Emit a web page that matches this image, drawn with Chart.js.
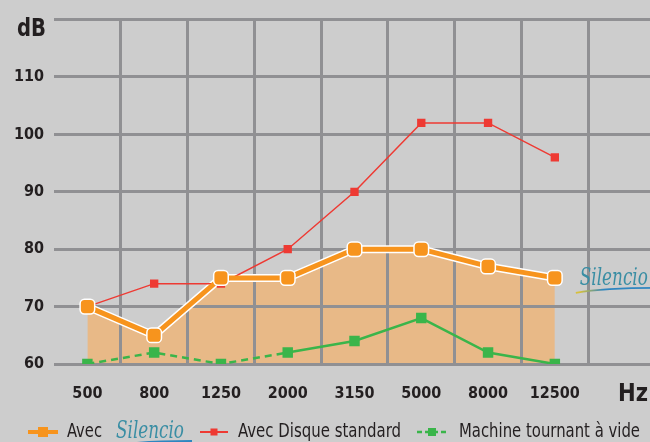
<!DOCTYPE html>
<html>
<head>
<meta charset="utf-8">
<script src="https://cdn.jsdelivr.net/npm/chart.js@4.4.1/dist/chart.umd.min.js"></script>
<style>
  html, body { margin: 0; padding: 0; background: #cdcdcd; overflow: hidden; }
  #noiseChart { display: block; }
</style>
</head>
<body>
<canvas id="noiseChart" width="665" height="442"></canvas>
<script>
/* Sound level (dB) per frequency band, three machine configurations.
   Canvas is a bit wider than the window so the last (empty) band runs off the edge. */

const categories = ["500", "800", "1250", "2000", "3150", "5000", "8000", "12500"];
const withSilencio = [70, 65, 75, 75, 80, 80, 77, 75];
const standardDisc = [70, 74, 74, 80, 90, 102, 102, 96];
const idleMachine = [60, 62, 60, 62, 64, 68, 62, 60];
const yTicks = [60, 70, 80, 90, 100, 110, 120];

const FONT = '"DejaVu Sans Condensed", "Liberation Sans Narrow", sans-serif';
const GRID = "#909093";
const TEXT = "#231f20";
const COLORS = { silencio: "#f7941d", standard: "#ee3a33", idle: "#3ab54a", fill: "#e8b987" };

// text squeezed horizontally to a given width (condensed look)
function fillNarrow(ctx, text, x, y, width) {
  const w = ctx.measureText(text).width;
  ctx.save();
  ctx.translate(x, y);
  ctx.scale(width / w, 1);
  ctx.fillText(text, 0, 0);
  ctx.restore();
}

function drawLogo(ctx, x, y, width) {
  ctx.save();
  ctx.font = 'italic 25px "DejaVu Serif", serif';
  ctx.textBaseline = "alphabetic";
  ctx.textAlign = "left";
  ctx.fillStyle = "#3a8ea4";
  fillNarrow(ctx, "Silencio", x, y, width);
  const grad = ctx.createLinearGradient(x, 0, x + width, 0);
  grad.addColorStop(0, "#d6c03c");
  grad.addColorStop(0.35, "#2f86c0");
  grad.addColorStop(1, "#2f86c0");
  ctx.strokeStyle = grad;
  ctx.lineWidth = 1.8;
  ctx.beginPath();
  ctx.moveTo(x - 4, y + 8);
  ctx.quadraticCurveTo(x + width * 0.35, y + 3, x + width + 8, y + 3);
  ctx.stroke();
  ctx.restore();
}

const extras = {
  id: "extras",
  afterDraw(chart) {
    const ctx = chart.ctx;
    const yScale = chart.scales.y;
    const area = chart.chartArea;
    ctx.save();
    ctx.fillStyle = TEXT;
    ctx.textBaseline = "middle";
    ctx.textAlign = "left";
    // axis units
    ctx.font = "bold 25px " + FONT;
    fillNarrow(ctx, "dB", 17, yScale.getPixelForValue(120) + 10, 29);
    fillNarrow(ctx, "Hz", 618, area.bottom + 30, 30);
    // logo next to the Silencio line end
    const last = chart.getDatasetMeta(3).data[withSilencio.length - 1];
    drawLogo(ctx, last.x + 25, last.y + 7, 68);

    // legend
    const ly = 432;
    ctx.font = "19px " + FONT;
    // Avec Silencio
    ctx.strokeStyle = COLORS.silencio; ctx.lineWidth = 4;
    ctx.beginPath(); ctx.moveTo(28, ly); ctx.lineTo(58, ly); ctx.stroke();
    ctx.fillStyle = COLORS.silencio; ctx.fillRect(38, ly - 5, 10, 10);
    ctx.fillStyle = TEXT; fillNarrow(ctx, "Avec", 67, ly, 35);
    drawLogo(ctx, 116, ly + 6, 68);
    // Avec Disque standard
    ctx.strokeStyle = COLORS.standard; ctx.lineWidth = 2;
    ctx.beginPath(); ctx.moveTo(200, ly); ctx.lineTo(228, ly); ctx.stroke();
    ctx.fillStyle = COLORS.standard; ctx.fillRect(210.5, ly - 3.5, 7, 7);
    ctx.fillStyle = TEXT; fillNarrow(ctx, "Avec Disque standard", 238, ly, 163);
    // Machine tournant a vide
    ctx.strokeStyle = COLORS.idle; ctx.lineWidth = 2.5; ctx.setLineDash([5, 3]);
    ctx.beginPath(); ctx.moveTo(417, ly); ctx.lineTo(448, ly); ctx.stroke();
    ctx.setLineDash([]);
    ctx.fillStyle = COLORS.idle; ctx.fillRect(428, ly - 4, 8, 8);
    ctx.fillStyle = TEXT; fillNarrow(ctx, "Machine tournant à vide", 459, ly, 181);
    ctx.restore();
  }
};

new Chart(document.getElementById("noiseChart"), {
  type: "line",
  data: {
    labels: [...categories, ""],
    datasets: [
      { // white outline + area under the Silencio curve
        label: "outline", data: withSilencio, borderColor: "#ffffff", borderWidth: 8,
        pointRadius: 0, fill: "start", backgroundColor: COLORS.fill, order: 4
      },
      {
        label: "Avec Disque standard", data: standardDisc, borderColor: COLORS.standard, borderWidth: 1.5,
        pointStyle: "rect", pointRadius: 5.9, pointBackgroundColor: COLORS.standard, pointBorderWidth: 0, order: 3
      },
      {
        label: "Machine tournant à vide", data: idleMachine, borderColor: COLORS.idle, borderWidth: 2.5,
        segment: { borderDash: ctx => ctx.p0DataIndex < 3 ? [7, 5] : [] },
        pointStyle: "rect", pointRadius: 7.4, pointBackgroundColor: COLORS.idle, pointBorderWidth: 0, order: 2
      },
      {
        label: "Avec Silencio", data: withSilencio, borderColor: COLORS.silencio, borderWidth: 5,
        pointStyle: "rectRounded", pointRadius: 8.5, pointBackgroundColor: COLORS.silencio,
        pointBorderColor: "#ffffff", pointBorderWidth: 1.5, order: 1
      }
    ]
  },
  options: {
    responsive: false,
    animation: false,
    layout: { padding: { top: 15, right: -5, left: 0, bottom: 0 } },
    plugins: { legend: { display: false }, tooltip: { enabled: false }, filler: { drawTime: "beforeDraw" } },
    scales: {
      x: {
        offset: true,
        grid: { offset: true, color: c => c.index === 0 ? "rgba(0,0,0,0)" : GRID, lineWidth: 3, drawTicks: false },
        border: { display: false },
        ticks: { color: TEXT, font: { family: FONT, size: 16, weight: "bold" }, padding: 20, maxRotation: 0, autoSkip: false },
        afterFit: s => { s.height = 78; }
      },
      y: {
        min: yTicks[0], max: yTicks[yTicks.length - 1],
        afterBuildTicks: s => { s.ticks = yTicks.map(v => ({ value: v })); },
        grid: { color: GRID, lineWidth: 3, drawTicks: false },
        border: { display: false },
        ticks: { color: TEXT, font: { family: FONT, size: 16, weight: "bold" }, padding: 10,
                 callback: v => v === 120 ? "" : v },
        afterFit: s => { s.width = 54; }
      }
    }
  },
  plugins: [extras]
});
</script>
</body>
</html>
